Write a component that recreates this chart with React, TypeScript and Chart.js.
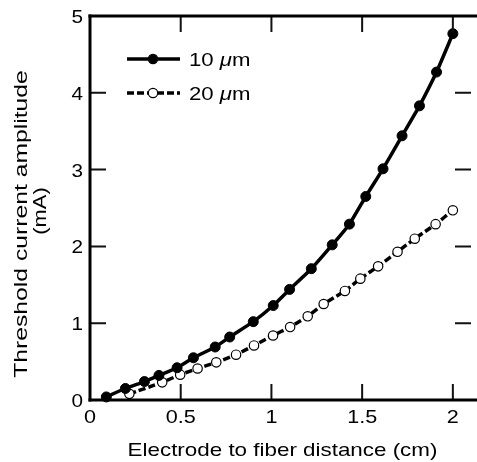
import React, { useEffect, useRef } from "react";
import { Chart, registerables } from "chart.js";

Chart.register(...registerables);

// ---- data ----
const seriesNames = ["10 ", "20 "];
const x10 = [0.09, 0.195, 0.3, 0.38, 0.48, 0.57, 0.69, 0.77, 0.9, 1.01, 1.1, 1.22, 1.335, 1.43, 1.52, 1.615, 1.72, 1.816, 1.91, 2.0];
const y10 = [0.04, 0.15, 0.24, 0.32, 0.42, 0.55, 0.69, 0.82, 1.02, 1.23, 1.44, 1.71, 2.02, 2.29, 2.65, 3.01, 3.44, 3.83, 4.27, 4.77];
const x20 = [0.217, 0.398, 0.497, 0.593, 0.696, 0.805, 0.904, 1.009, 1.103, 1.2, 1.288, 1.405, 1.49, 1.588, 1.695, 1.79, 1.905, 2.0];
const y20 = [0.08, 0.23, 0.33, 0.41, 0.49, 0.59, 0.71, 0.84, 0.95, 1.09, 1.25, 1.42, 1.58, 1.74, 1.93, 2.1, 2.29, 2.47];
const xTicks = [0, 0.5, 1, 1.5, 2];
const xTickLabels = ["0", "0.5", "1", "1.5", "2"];
const yTicks = [0, 1, 2, 3, 4, 5];
const yTickLabels = ["0", "1", "2", "3", "4", "5"];
const xTitle = "Electrode to fiber distance (cm)";
const yTitle = ["Threshold current amplitude", "(mA)"];

const FONT = "'Liberation Sans', Arial, Helvetica, sans-serif";

function stretchText(ctx: CanvasRenderingContext2D, text: string, x: number, y: number, size: number, align: CanvasTextAlign, sx: number) {
  ctx.save();
  ctx.translate(x, y);
  ctx.scale(sx, 1);
  ctx.font = `${size}px ${FONT}`;
  ctx.textAlign = align;
  ctx.textBaseline = "alphabetic";
  ctx.fillStyle = "#000";
  ctx.fillText(text, 0, 0);
  ctx.restore();
}

function drawTickMarks(ctx: CanvasRenderingContext2D, chart: any) {
  const area = chart.chartArea;
  const xs = chart.scales.x;
  const ys = chart.scales.y;
  ctx.save();
  ctx.strokeStyle = "#111";
  ctx.lineWidth = 2;
  ctx.beginPath();
  xTicks.slice(1).forEach((v) => {
    const px = xs.getPixelForValue(v);
    ctx.moveTo(px, area.bottom);
    ctx.lineTo(px, area.bottom - 16);
    ctx.moveTo(px, area.top);
    ctx.lineTo(px, area.top + 16);
  });
  yTicks.slice(1, 5).forEach((v) => {
    const py = ys.getPixelForValue(v);
    ctx.moveTo(area.left, py);
    ctx.lineTo(area.left + 16, py);
    ctx.moveTo(area.right, py);
    ctx.lineTo(area.right - 16, py);
  });
  ctx.stroke();
  ctx.restore();
}

const framePlugin = {
  id: "frame",
  afterDraw(chart: any) {
    const ctx: CanvasRenderingContext2D = chart.ctx;
    const area = chart.chartArea;
    const left = area.left, right = area.right, top = area.top, bottom = area.bottom;
    const xs = chart.scales.x;
    const ys = chart.scales.y;
    drawTickMarks(ctx, chart);
    ctx.save();
    ctx.fillStyle = "#000";
    const fw = 3;
    ctx.fillRect(left - fw / 2, top - fw / 2, right - left + 10, fw);
    ctx.fillRect(left - fw / 2, bottom - fw / 2, right - left + 10, fw);
    ctx.fillRect(left - fw / 2, top - fw / 2, fw, bottom - top + fw);
    ctx.restore();

    xTicks.forEach((v, i) => {
      stretchText(ctx, xTickLabels[i], xs.getPixelForValue(v), bottom + 23, 18, "center", 1.2);
    });
    yTicks.forEach((v, i) => {
      stretchText(ctx, yTickLabels[i], left - 7, ys.getPixelForValue(v) + 7, 18, "right", 1.15);
    });
    stretchText(ctx, xTitle, (left + right) / 2 + 2, 456, 18.5, "center", 1.21);
    ctx.save();
    ctx.translate(27, 224);
    ctx.rotate(-Math.PI / 2);
    ctx.scale(1.3, 1);
    ctx.font = `19px ${FONT}`;
    ctx.textAlign = "center";
    ctx.fillStyle = "#000";
    ctx.fillText(yTitle[0], 0, 0);
    ctx.restore();
    ctx.save();
    ctx.translate(46, 211);
    ctx.rotate(-Math.PI / 2);
    ctx.scale(1.15, 1);
    ctx.font = `19px ${FONT}`;
    ctx.textAlign = "center";
    ctx.fillStyle = "#000";
    ctx.fillText(yTitle[1], 0, 0);
    ctx.restore();
    const items = [
      { y: 59, dash: [] as number[], fill: "#000", name: seriesNames[0] },
      { y: 93, dash: [7, 3], fill: "#fff", name: seriesNames[1] },
    ];
    items.forEach((it) => {
      ctx.save();
      ctx.strokeStyle = "#000";
      ctx.lineWidth = 3.5;
      ctx.setLineDash(it.dash);
      ctx.beginPath();
      ctx.moveTo(127, it.y);
      ctx.lineTo(180, it.y);
      ctx.stroke();
      ctx.setLineDash([]);
      ctx.beginPath();
      ctx.arc(153, it.y, 4.7, 0, Math.PI * 2);
      ctx.fillStyle = it.fill;
      ctx.fill();
      ctx.lineWidth = 1.2;
      ctx.stroke();
      ctx.restore();
      const size = 18.5;
      ctx.save();
      ctx.translate(189, it.y + 6.5);
      ctx.scale(1.2, 1);
      ctx.fillStyle = "#000";
      ctx.textAlign = "left";
      ctx.textBaseline = "alphabetic";
      ctx.font = `${size}px ${FONT}`;
      let x = 0;
      ctx.fillText(it.name, x, 0);
      x += ctx.measureText(it.name).width;
      ctx.font = `italic ${size}px ${FONT}`;
      ctx.fillText("\u03bc", x, 0);
      x += ctx.measureText("\u03bc").width;
      ctx.font = `${size}px ${FONT}`;
      ctx.fillText("m", x, 0);
      ctx.restore();
    });
  },
};

export default function App() {
  const ref = useRef<HTMLCanvasElement | null>(null);
  useEffect(() => {
    if (!ref.current) return;
    const chart = new Chart(ref.current, {
      type: "line",
      data: {
        datasets: [
          {
            label: "10 \u03bcm",
            data: x10.map((x, i) => ({ x, y: y10[i] })),
            borderColor: "#000",
            borderWidth: 3.5,
            pointRadius: 5,
            pointBackgroundColor: "#000",
            pointBorderColor: "#000",
            pointBorderWidth: 1,
            tension: 0.15,
            clip: false as any,
          },
          {
            label: "20 \u03bcm",
            data: x20.map((x, i) => ({ x, y: y20[i] })),
            borderColor: "#000",
            borderWidth: 3.5,
            borderDash: [7, 3],
            pointRadius: 4.7,
            pointBackgroundColor: "#fff",
            pointBorderColor: "#000",
            pointBorderWidth: 1.2,
            tension: 0.15,
            clip: false as any,
          },
        ],
      },
      options: {
        responsive: false,
        animation: false,
        events: [],
        layout: { padding: { left: 90, top: 16, right: 0, bottom: 62 } },
        plugins: { legend: { display: false }, tooltip: { enabled: false } },
        scales: {
          x: { type: "linear", min: 0, max: 2.1, display: false },
          y: { type: "linear", min: 0, max: 5, display: false },
        },
      },
      plugins: [framePlugin],
    });
    return () => chart.destroy();
  }, []);
  return (
    <div style={{ position: "absolute", left: 0, top: 0, width: 477, height: 462, background: "#fff" }}>
      <canvas ref={ref} width={477} height={462} style={{ display: "block" }} />
    </div>
  );
}
